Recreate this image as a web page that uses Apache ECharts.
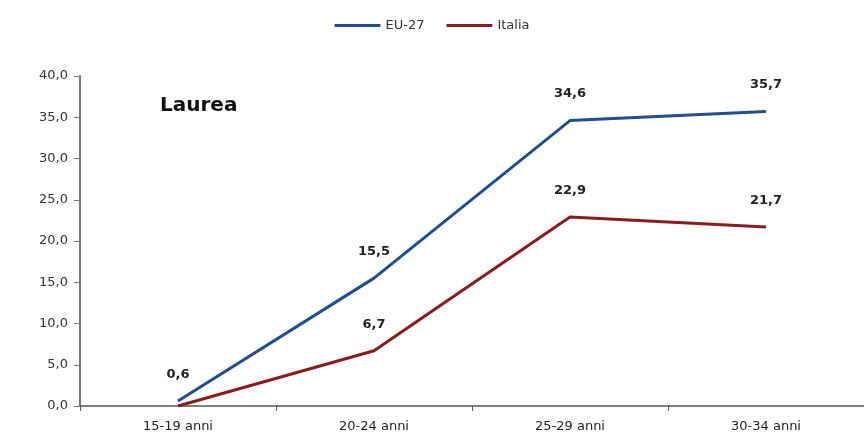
<!DOCTYPE html>
<html><head><meta charset="utf-8">
<script src="https://cdn.jsdelivr.net/npm/echarts@6/dist/echarts.min.js"></script>
<style>html,body{margin:0;padding:0;background:#fff}#c{width:864px;height:448px}</style>
</head><body><div id="c"></div>
<script>
const categories = ['15-19 anni', '20-24 anni', '25-29 anni', '30-34 anni'];
const euValues = [0.6, 15.5, 34.6, 35.7];
const itValues = [0.0, 6.7, 22.9, 21.7];
const yTicks = {min: 0, max: 40, interval: 5};
const fmt = v => Number(v).toFixed(1).replace('.', ',');
const font = 'DejaVu Sans';
const chart = echarts.init(document.getElementById('c'));
chart.setOption({
  animation: false,
  textStyle: {fontFamily: font},
  legend: {
    top: 14, left: 'center', itemWidth: 46, itemHeight: 3, itemGap: 22,
    icon: 'roundRect',
    textStyle: {fontFamily: font, fontSize: 13, color: '#333'},
    data: ['EU-27', 'Italia']
  },
  graphic: [{type: 'text', left: 160, top: 96, style: {text: 'Laurea', font: 'bold 20px "DejaVu Sans"', fill: '#111'}}],
  grid: {left: 80, right: 0, top: 76, bottom: 42},
  xAxis: {
    type: 'category', data: categories, boundaryGap: true,
    axisLine: {lineStyle: {color: '#555', width: 1.5}},
    axisTick: {show: true, length: 5, lineStyle: {color: '#555'}},
    axisLabel: {color: '#222', fontSize: 13, margin: 14, fontFamily: font}
  },
  yAxis: {
    type: 'value', min: yTicks.min, max: yTicks.max, interval: yTicks.interval,
    splitLine: {show: false},
    axisLine: {show: true, lineStyle: {color: '#777', width: 2}},
    axisTick: {show: true, length: 6, lineStyle: {color: '#777'}},
    axisLabel: {color: '#333', fontSize: 13, margin: 12, fontFamily: font, formatter: v => fmt(v)}
  },
  series: [
    {name: 'EU-27', type: 'line', data: euValues, showSymbol: true, symbol: 'circle', symbolSize: 0.1,
     lineStyle: {color: '#1f4f8f', width: 3}, itemStyle: {color: '#1f4f8f'},
     label: {show: true, position: 'top', distance: 20, fontWeight: 'bold', fontSize: 13, color: '#222', fontFamily: font, formatter: p => fmt(p.value)}},
    {name: 'Italia', type: 'line', data: itValues, showSymbol: true, symbol: 'circle', symbolSize: 0.1,
     lineStyle: {color: '#8b1c1c', width: 3}, itemStyle: {color: '#8b1c1c'},
     label: {show: true, position: 'top', distance: 20, fontWeight: 'bold', fontSize: 13, color: '#222', fontFamily: font, formatter: p => p.dataIndex === 0 ? '' : fmt(p.value)}}
  ]
});
</script></body></html>
